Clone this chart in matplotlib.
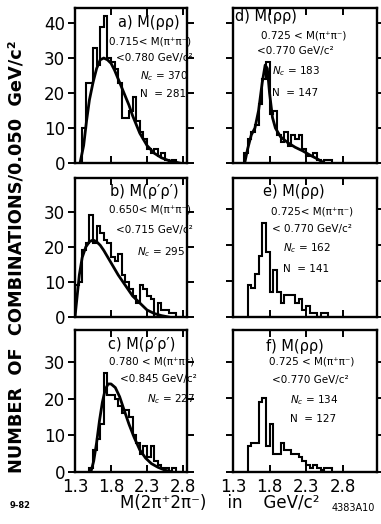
import matplotlib.pyplot as plt
import numpy as np

plt.rcParams['font.family'] = ['DejaVu Sans']
plt.rcParams['mathtext.fontset'] = 'dejavusans'

W, H = 381, 524
BIN = 0.05

# histogram counts per 0.050 GeV bin, first bin edge given separately
a_start = 1.40
a_counts = [10, 23, 23, 33, 28, 39, 42, 30, 29, 27, 23, 13, 13, 15, 19, 12, 9, 7, 4, 3, 4, 2, 3, 1, 0.5, 1]
b_start = 1.30
b_counts = [9, 10, 19, 21, 29, 21, 26, 24, 22, 21, 17, 16, 18, 12, 10, 8, 6, 4, 9, 8, 6, 5, 0, 4, 2, 2, 1, 1]
c_start = 1.50
c_counts = [1, 6, 9, 13, 27, 21, 21, 20, 18, 16, 17, 15, 10, 8, 5, 7, 4, 7, 3, 2, 1, 1, 0, 1]
d_start = 1.45
d_counts = [3, 7, 9, 11, 17, 24, 29, 14, 15, 8, 6, 9, 5, 8, 7, 8, 4, 2, 2, 3, 1, 0, 1, 1]
e_start = 1.50
e_counts = [9, 8, 12, 17, 26, 18, 7, 13, 7, 4, 6, 6, 6, 4, 5, 2, 3, 1, 1, 0, 1, 1]
f_start = 1.50
f_counts = [7, 8, 8, 19, 20, 7, 13, 5, 5, 8, 6, 6, 5, 5, 4, 3, 2, 1, 2, 1, 0.5, 1, 1]

# fitted curves
a_fit_x = [1.37, 1.42, 1.46, 1.50, 1.55, 1.60, 1.65, 1.70, 1.75, 1.80, 1.85, 1.90, 1.95, 2.00,
           2.05, 2.10, 2.15, 2.20, 2.30, 2.40, 2.50, 2.60, 2.75]
a_fit_y = [0, 5, 12, 18, 23, 27, 29.5, 30, 29.5, 28.5, 26.5, 24, 21.5, 19,
           16.5, 13.5, 11, 8.5, 5, 2.8, 1.5, 0.7, 0]
b_fit_x = [1.30, 1.33, 1.36, 1.40, 1.45, 1.50, 1.55, 1.60, 1.65, 1.70, 1.80, 1.90, 2.00, 2.10,
           2.20, 2.30, 2.40, 2.50, 2.60]
b_fit_y = [0, 6, 12, 17, 20, 21.5, 22, 21.5, 20.5, 19, 15.5, 12, 9, 6, 4, 2, 1, 0.4, 0]
c_fit_x = [1.52, 1.56, 1.60, 1.64, 1.68, 1.72, 1.76, 1.80, 1.86, 1.92, 1.98, 2.05, 2.12, 2.20,
           2.28, 2.36, 2.45, 2.55, 2.65]
c_fit_y = [0, 3, 8, 14, 19, 22.5, 24, 24, 23, 20.5, 17, 13, 9.5, 6, 3.8, 2.3, 1.3, 0.5, 0]
d_fit_x = [1.46, 1.50, 1.55, 1.60, 1.65, 1.70, 1.74, 1.77, 1.80, 1.84, 1.88, 1.95, 2.05, 2.15,
           2.25, 2.35, 2.45, 2.55]
d_fit_y = [0, 4, 8, 10, 15, 23, 28, 27, 20, 13, 10, 7.5, 5.8, 4.5, 3.5, 2.3, 1.2, 0]

xticks = [1.3, 1.8, 2.3, 2.8]
xtick_labels = ['1.3', '1.8', '2.3', '2.8']

fig = plt.figure(figsize=(W / 100, H / 100), dpi=100)


def add_ax(x0, y0, x1, y1):
    return fig.add_axes([x0 / W, 1 - y1 / H, (x1 - x0) / W, (y1 - y0) / H])


def ftext(x, y, s, size, **kw):
    fig.text(x / W, 1 - y / H, s, fontsize=size, va='center', ha='left', **kw)


def setup(ax, xmax, ymax, yt, left, bottom):
    ax.set_xlim(1.3, xmax)
    ax.set_ylim(0, ymax)
    ax.set_xticks(xticks)
    ax.set_yticks(yt)
    ax.tick_params(axis='x', direction='in', top=True, length=5, width=1.4)
    ax.tick_params(axis='y', direction='out', right=True, length=5, width=1.4,
                   labelleft=left, labelsize=12, pad=2)
    if bottom:
        ax.set_xticklabels(xtick_labels)
        ax.tick_params(axis='x', labelsize=12, pad=4)
    else:
        ax.set_xticklabels([])
    for s in ax.spines.values():
        s.set_linewidth(1.7)


def hist(ax, start, counts):
    edges = start + BIN * np.arange(len(counts) + 1)
    ax.stairs(counts, edges, color='black', linewidth=1.5)


ax_a = add_ax(75, 8, 187, 163)
ax_b = add_ax(75, 178, 187, 317)
ax_c = add_ax(75, 330, 187, 472)
ax_d = add_ax(233, 8, 377, 163)
ax_e = add_ax(233, 178, 377, 317)
ax_f = add_ax(233, 330, 377, 472)

setup(ax_a, 2.855, 44.3, [0, 10, 20, 30, 40], True, False)
setup(ax_b, 2.855, 39.7, [0, 10, 20, 30], True, False)
setup(ax_c, 2.855, 38.7, [0, 10, 20, 30], True, True)
setup(ax_d, 3.27, 44.3, [0, 10, 20, 30, 40], False, False)
setup(ax_e, 3.27, 38.6, [0, 10, 20, 30], False, False)
setup(ax_f, 3.27, 38.6, [0, 10, 20, 30], False, True)

hist(ax_a, a_start, a_counts)
hist(ax_b, b_start, b_counts)
hist(ax_c, c_start, c_counts)
hist(ax_d, d_start, d_counts)
hist(ax_e, e_start, e_counts)
hist(ax_f, f_start, f_counts)

ax_a.plot(a_fit_x, a_fit_y, color='black', linewidth=2)
ax_b.plot(b_fit_x, b_fit_y, color='black', linewidth=2)
ax_c.plot(c_fit_x, c_fit_y, color='black', linewidth=2)
ax_d.plot(d_fit_x, d_fit_y, color='black', linewidth=2)

# panel annotations
ftext(118, 22, 'a) M(ρρ)', 10.5)
ftext(109, 41, '0.715< M(π⁺π⁻)', 7.5)
ftext(116, 58, '<0.780 GeV/c²', 7.5)
ftext(140, 76, '$N_c$ = 370', 7.5)
ftext(140, 94, 'N  = 281', 7.5)

ftext(235, 17, 'd) M(ρρ)', 10.5)
ftext(261, 35, '0.725 < M(π⁺π⁻)', 7.5)
ftext(257, 51, '<0.770 GeV/c²', 7.5)
ftext(272, 71, '$N_c$ = 183', 7.5)
ftext(272, 93, 'N  = 147', 7.5)

ftext(110, 191, 'b) M(ρ′ρ′)', 10.5)
ftext(109, 210, '0.650< M(π⁺π⁻)', 7.5)
ftext(116, 230, '<0.715 GeV/c²', 7.5)
ftext(137, 252, '$N_c$ = 295', 7.5)

ftext(263, 192, 'e) M(ρρ)', 10.5)
ftext(271, 211, '0.725< M(π⁺π⁻)', 7.5)
ftext(272, 229, '< 0.770 GeV/c²', 7.5)
ftext(283, 248, '$N_c$ = 162', 7.5)
ftext(283, 269, 'N  = 141', 7.5)

ftext(108, 345, 'c) M(ρ′ρ′)', 10.5)
ftext(109, 362, '0.780 < M(π⁺π⁻)', 7.5)
ftext(120, 379, '<0.845 GeV/c²', 7.5)
ftext(147, 399, '$N_c$ = 227', 7.5)

ftext(266, 347, 'f) M(ρρ)', 10.5)
ftext(269, 362, '0.725 < M(π⁺π⁻)', 7.5)
ftext(272, 380, '<0.770 GeV/c²', 7.5)
ftext(290, 400, '$N_c$ = 134', 7.5)
ftext(290, 419, 'N  = 127', 7.5)

# axis titles
fig.text(17 / W, 1 - 257 / H, 'NUMBER  OF  COMBINATIONS/0.050  GeV/c²', rotation=90,
         fontsize=12.8, fontweight='bold', ha='center', va='center')
ftext(120, 503, 'M(2π⁺2π⁻)    in    GeV/c²', 12)
ftext(332, 508, '4383A10', 7)
ftext(10, 506, '9-82', 6, fontweight='bold')

fig.savefig('out.png', dpi=100)
